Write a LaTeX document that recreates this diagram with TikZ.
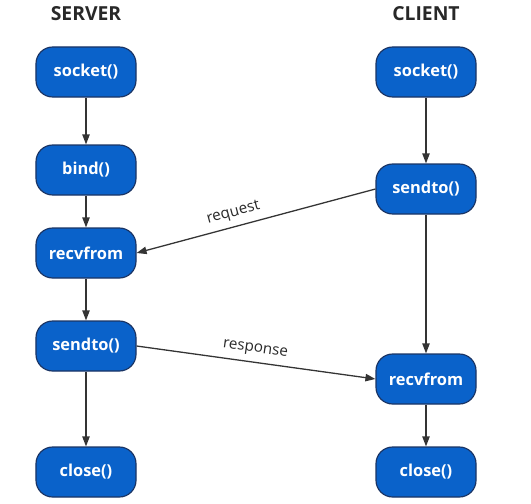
\documentclass[tikz,border=0pt]{standalone}
\usepackage{fontspec}
\setmainfont{Open Sans}
\usetikzlibrary{arrows.meta}
\definecolor{boxblue}{RGB}{10,98,202}
\definecolor{boxline}{RGB}{26,52,100}
\definecolor{arrowgray}{RGB}{52,52,52}
\definecolor{titlegray}{RGB}{40,40,40}

\begin{document}
\begin{tikzpicture}[x=0.03cm, y=-0.03cm,
    call/.style={draw=boxline, line width=1pt, fill=boxblue, rounded corners=0.5cm,
      minimum width=3cm, minimum height=1.5cm, text=white, font=\fontsize{14}{16}\selectfont\bfseries},
    title/.style={text=titlegray, font=\fontsize{16.5}{18}\selectfont\bfseries},
    flow/.style={draw=arrowgray, line width=1.1pt, -{Triangle[length=0.3cm,width=0.22cm]}},
    msg/.style={text=titlegray, font=\fontsize{13}{15}\selectfont, inner sep=1pt}]
      \useasboundingbox (0,0) rectangle (531,504);
      \node[title] (server) at (86,14) {SERVER};
      \node[title] (client) at (426,14) {CLIENT};
      % server side
      \node[call] (ssocket) at (86,72) {socket()};
      \node[call] (sbind) at (86,170) {bind()};
      \node[call] (srecv) at (86,253) {recvfrom};
      \node[call] (ssend) at (86,346) {sendto()};
      \node[call] (sclose) at (86,472) {close()};
      % client side
      \node[call] (csocket) at (426,72) {socket()};
      \node[call] (csend) at (426,189) {sendto()};
      \node[call] (crecv) at (426,379) {recvfrom};
      \node[call] (cclose) at (426,472) {close()};
      \draw[flow] (ssocket) -- (sbind);
      \draw[flow] (sbind) -- (srecv);
      \draw[flow] (srecv) -- (ssend);
      \draw[flow] (ssend) -- (sclose);
      \draw[flow] (csocket) -- (csend);
      \draw[flow] (csend) -- (crecv);
      \draw[flow] (crecv) -- (cclose);
      \draw[flow, {Triangle[length=0.3cm,width=0.22cm]}-] (srecv.east) -- node[msg, above=4pt, sloped, pos=0.42] {request} (csend.west);
      \draw[flow] (ssend.east) -- node[msg, above=4pt, sloped, pos=0.49] {response} (crecv.west);
    \end{tikzpicture}
\end{document}
